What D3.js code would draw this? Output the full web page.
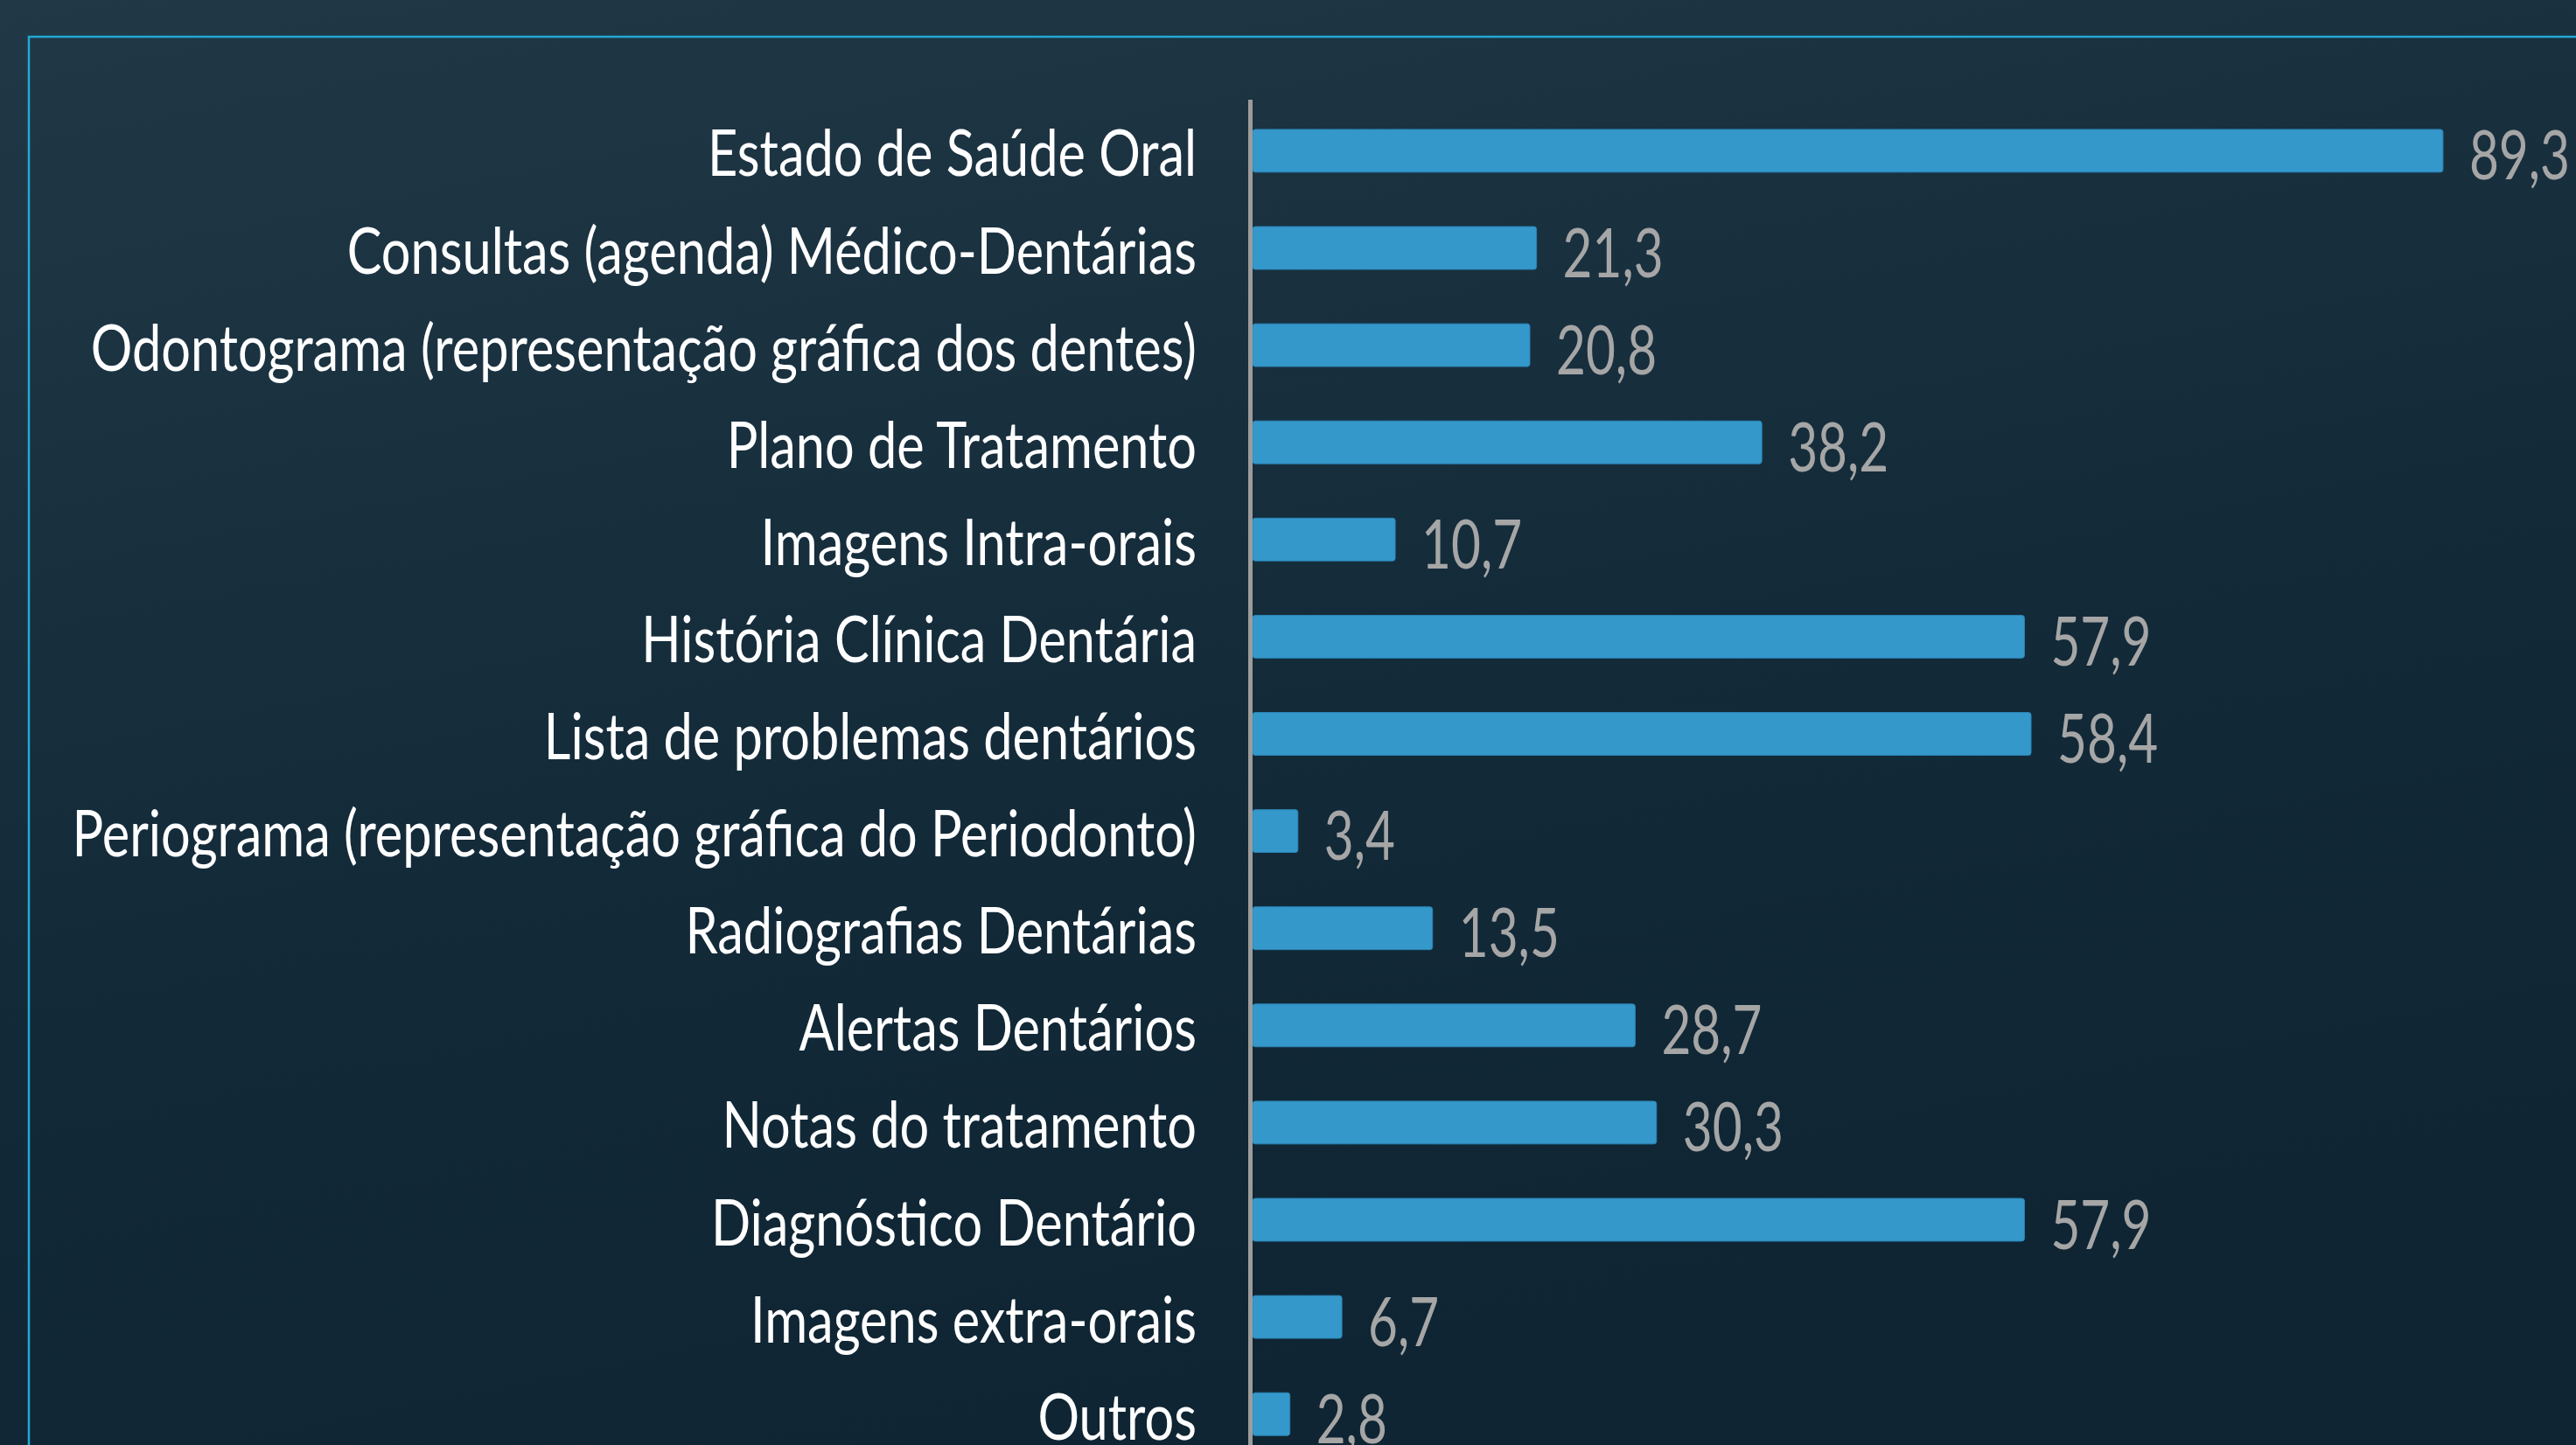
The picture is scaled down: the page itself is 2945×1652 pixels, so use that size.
<!DOCTYPE html>
<html>
<head>
<meta charset="utf-8">
<script src="https://cdn.jsdelivr.net/npm/d3@7"></script>
<style>
  html, body { margin: 0; padding: 0; overflow: hidden; background: #142a38; }
  svg { display: block; }
</style>
</head>
<body>
<svg id="BarChart"></svg>
<script>
// data
const categories = [
    "Estado de Saúde Oral",
    "Consultas (agenda) Médico-Dentárias",
    "Odontograma (representação gráfica dos dentes)",
    "Plano de Tratamento",
    "Imagens Intra-orais",
    "História Clínica Dentária",
    "Lista de problemas dentários",
    "Periograma (representação gráfica do Periodonto)",
    "Radiografias Dentárias",
    "Alertas Dentários",
    "Notas do tratamento",
    "Diagnóstico Dentário",
    "Imagens extra-orais",
    "Outros"
];
const values = [89.3, 21.3, 20.8, 38.2, 10.7, 57.9, 58.4, 3.4, 13.5, 28.7, 30.3, 57.9, 6.7, 2.8];
const xDomain = [0, 100];

const data = categories.map((c, i) => ({category: c, value: values[i]}));

const W = 2945, H = 1652;
const fontStack = "Lato, 'Noto Sans', sans-serif";
// squeeze Lato horizontally to get the narrow Calibri look
const catSqueeze = 0.815;
const valSqueeze = 0.76;
const pt = d3.formatLocale({decimal: ",", thousands: ".", grouping: [3], currency: ["", "€"]}).format(".1f");

const svg = d3.select("#BarChart")
    .attr("width", W)
    .attr("height", H);

// background gradient
const defs = svg.append("defs");
const grad = defs.append("linearGradient")
    .attr("id", "bg")
    .attr("x1", "0").attr("y1", "0")
    .attr("x2", "0.35").attr("y2", "1");
grad.append("stop").attr("offset", "0%").attr("stop-color", "#213847");
grad.append("stop").attr("offset", "60%").attr("stop-color", "#132a39");
grad.append("stop").attr("offset", "100%").attr("stop-color", "#0f2533");

svg.append("rect")
    .attr("width", W)
    .attr("height", H)
    .attr("fill", "url(#bg)");

// frame (runs off the right and bottom edges)
svg.append("rect")
    .attr("x", 33)
    .attr("y", 42)
    .attr("width", W + 100)
    .attr("height", H + 100)
    .attr("fill", "none")
    .attr("stroke", "#23a8d3")
    .attr("stroke-width", 2.5);

// scales
const x = d3.scaleLinear()
    .domain(xDomain)
    .range([1432, 2956]);

const step = 111.1;
const y = d3.scaleBand()
    .domain(categories)
    .range([172.4 - step / 2, 172.4 - step / 2 + step * categories.length])
    .paddingInner(0.56)
    .paddingOuter(0.28);

// bars
svg.selectAll(".bar")
    .data(data)
    .enter()
    .append("rect")
    .attr("class", "bar")
    .attr("x", x(0))
    .attr("y", d => y(d.category))
    .attr("width", d => x(d.value) - x(0))
    .attr("height", y.bandwidth())
    .attr("rx", 3)
    .attr("fill", "#3598cb")
    .attr("stroke", "#2a86b6")
    .attr("stroke-width", 1);

// y axis line
svg.append("line")
    .attr("x1", 1429.5).attr("x2", 1429.5)
    .attr("y1", 114).attr("y2", H + 10)
    .attr("stroke", "#9c9c9c")
    .attr("stroke-width", 5);

// category labels
svg.selectAll(".cat")
    .data(data)
    .enter()
    .append("text")
    .attr("class", "cat")
    .attr("transform", d => `translate(1368,${y(d.category) + y.bandwidth() / 2 + 29}) scale(${catSqueeze},1)`)
    .attr("text-anchor", "end")
    .attr("font-family", fontStack)
    .attr("font-size", "73px")
    .attr("fill", "#ffffff")
    .text(d => d.category);

// value labels
svg.selectAll(".val")
    .data(data)
    .enter()
    .append("text")
    .attr("class", "val")
    .attr("transform", d => `translate(${x(d.value) + 30},${y(d.category) + y.bandwidth() / 2 + 33}) scale(${valSqueeze},1)`)
    .attr("font-family", fontStack)
    .attr("font-size", "77px")
    .attr("fill", "#a6a6a6")
    .text(d => pt(d.value));
</script>
</body>
</html>
